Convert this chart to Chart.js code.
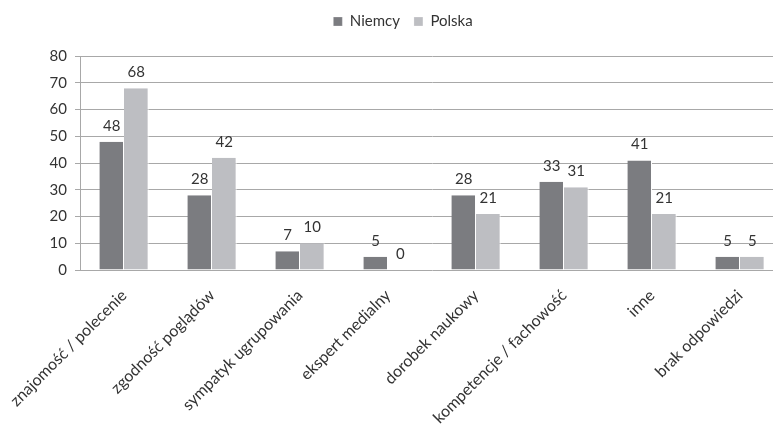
<!DOCTYPE html>
<html>
<head>
<meta charset="utf-8">
<script src="https://cdn.jsdelivr.net/npm/chart.js@4"></script>
<style>
  html, body { margin: 0; padding: 0; background: #fff; overflow: hidden; }
  #wrap { width: 784px; height: 426px; position: relative; }
</style>
</head>
<body>
<div id="wrap"><canvas id="wykres"></canvas></div>
<script>
var kategorie = ['znajomość / polecenie', 'zgodność poglądów', 'sympatyk ugrupowania', 'ekspert medialny',
                 'dorobek naukowy', 'kompetencje / fachowość', 'inne', 'brak odpowiedzi'];
var niemcy = [48, 28, 7, 5, 28, 33, 41, 5];
var polska = [68, 42, 10, 0, 21, 31, 21, 5];
var yMax = 80;
var yKrok = 10;

var czcionka = 'Lato, "Open Sans", sans-serif';

// etykiety z wartościami nad słupkami
var etykietyWartosci = {
    id: 'etykietyWartosci',
    afterDatasetsDraw: function(chart) {
        var ctx = chart.ctx;
        ctx.save();
        ctx.font = '15px ' + czcionka;
        ctx.fillStyle = '#333';
        ctx.textAlign = 'center';
        ctx.textBaseline = 'alphabetic';
        chart.data.datasets.forEach(function(ds, i) {
            chart.getDatasetMeta(i).data.forEach(function(bar, j) {
                ctx.fillText(ds.data[j], bar.x, bar.y - 11);
            });
        });
        ctx.restore();
    }
};

new Chart(document.getElementById('wykres'), {
    type: 'bar',
    data: {
        labels: kategorie,
        datasets: [{
            label: 'Niemcy',
            data: niemcy,
            backgroundColor: '#7b7c80',
            borderColor: '#ffffff',
            borderWidth: {left: 0, right: 1, top: 0, bottom: 0},
            categoryPercentage: 0.56,
            barPercentage: 1.0
        }, {
            label: 'Polska',
            data: polska,
            backgroundColor: '#bdbec2',
            borderColor: '#ffffff',
            borderWidth: {left: 0, right: 1, top: 0, bottom: 0},
            categoryPercentage: 0.56,
            barPercentage: 1.0
        }]
    },
    options: {
        responsive: true,
        maintainAspectRatio: false,
        animation: false,
        layout: { padding: {top: 0, left: 22, right: 0, bottom: 0} },
        plugins: {
            legend: {
                position: 'top',
                labels: {
                    boxWidth: 9,
                    boxHeight: 9,
                    padding: 14,
                    color: '#333',
                    font: { family: czcionka, size: 15 }
                }
            },
            // pusty tytuł jako odstęp między legendą a wykresem
            title: {
                display: true,
                text: '',
                weight: 500,
                font: { size: 1 },
                padding: { top: 16, bottom: 0 }
            },
            tooltip: { enabled: false }
        },
        scales: {
            x: {
                grid: { display: false },
                border: { display: false },
                ticks: {
                    minRotation: 45,
                    maxRotation: 45,
                    autoSkip: false,
                    padding: 8,
                    labelOffset: 0,
                    color: '#333',
                    font: { family: czcionka, size: 16 }
                },
                afterFit: function(scale) { scale.height = 156; }
            },
            y: {
                min: 0,
                max: yMax,
                ticks: {
                    stepSize: yKrok,
                    padding: 8,
                    color: '#333',
                    font: { family: czcionka, size: 15 }
                },
                grid: { color: '#a8a8a8', tickLength: 5 },
                border: { color: '#a8a8a8' },
                afterFit: function(scale) { scale.width = 58; }
            }
        }
    },
    plugins: [etykietyWartosci]
});
</script>
</body>
</html>
